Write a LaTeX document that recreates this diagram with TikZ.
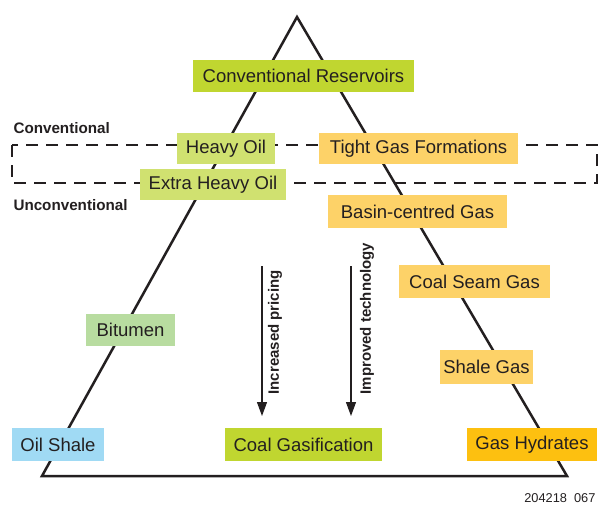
\documentclass[tikz,border=0pt]{standalone}
\usepackage{fontspec}
\setmainfont{Liberation Sans}
\usetikzlibrary{arrows.meta}

\definecolor{txtgray}{RGB}{35,31,32}
\definecolor{limegreen}{RGB}{192,214,48}
\definecolor{palelime}{RGB}{208,225,112}
\definecolor{palegreen}{RGB}{184,220,160}
\definecolor{skyblue}{RGB}{160,218,244}
\definecolor{amber}{RGB}{253,192,16}
\definecolor{paleorange}{RGB}{253,210,104}

\begin{document}
\begin{tikzpicture}[x=1pt,y=-1pt,>={Triangle[length=14pt,width=10pt]},font=\fontsize{18.5}{20}\selectfont,text=txtgray]
    \tikzstyle{resbox}=[inner sep=0pt,minimum height=32pt]
    \tikzstyle{sidelabel}=[anchor=west,font=\fontsize{15.2}{17}\selectfont\bfseries]
    \tikzstyle{trend}=[anchor=west,rotate=90,font=\fontsize{15}{17}\selectfont\bfseries]

    \useasboundingbox (0,0) rectangle (600,506);

    % resource triangle and the boundary band
    \draw[line width=2.5pt,line join=miter,txtgray] (297,17) -- (567,476) -- (42,476) -- cycle;
    \draw[line width=2pt,txtgray,dash pattern=on 12pt off 8pt] (12,145) rectangle (597,183);

    \node[sidelabel] (conv) at (10,128) {Conventional};
    \node[sidelabel] (unconv) at (10,205) {Unconventional};

    % oil side, gas side, bottom row
    \node[resbox,fill=limegreen,minimum width=221pt] (cres) at (303.5,76) {Conventional Reservoirs};
    \node[resbox,fill=palelime,minimum width=98pt,minimum height=31pt] (heavy) at (226,148.5) {Heavy Oil};
    \node[resbox,fill=paleorange,minimum width=199pt,minimum height=31pt] (tight) at (418.5,148.5) {Tight Gas Formations};
    \node[resbox,fill=palelime,minimum width=146pt,minimum height=31pt] (xheavy) at (213,184.5) {Extra Heavy Oil};
    \node[resbox,fill=paleorange,minimum width=179pt,minimum height=33pt] (basin) at (417.5,211.5) {Basin-centred Gas};
    \node[resbox,fill=paleorange,minimum width=151pt,minimum height=33pt] (seam) at (474.5,281.5) {Coal Seam Gas};
    \node[resbox,fill=palegreen,minimum width=89pt] (bitumen) at (130.5,330) {Bitumen};
    \node[resbox,fill=paleorange,minimum width=93pt,minimum height=34pt] (shgas) at (486.5,367) {Shale Gas};
    \node[resbox,fill=skyblue,minimum width=92pt,minimum height=33pt] (oilsh) at (58,444.5) {Oil Shale};
    \node[resbox,fill=limegreen,minimum width=157pt,minimum height=33pt] (coalg) at (303.5,444.5) {Coal Gasification};
    \node[resbox,fill=amber,minimum width=130pt,minimum height=33pt] (hydr) at (532,444.5) {Gas Hydrates};

    % drivers
    \coordinate (priceA) at (262,266);
    \coordinate (priceB) at (262,416);
    \coordinate (techA) at (351,266);
    \coordinate (techB) at (351,416);
    \draw[->,line width=1.2pt,txtgray] (priceA) -- (priceB);
    \draw[->,line width=1.2pt,txtgray] (techA) -- (techB);
    \node[trend] (pricing) at (275,398) {Increased pricing};
    \node[trend] (techno) at (367,398) {Improved technology};

    \node[anchor=east,font=\fontsize{12.8}{14}\selectfont] (figno) at (599,498) {204218\ \ 067};
\end{tikzpicture}
\end{document}
